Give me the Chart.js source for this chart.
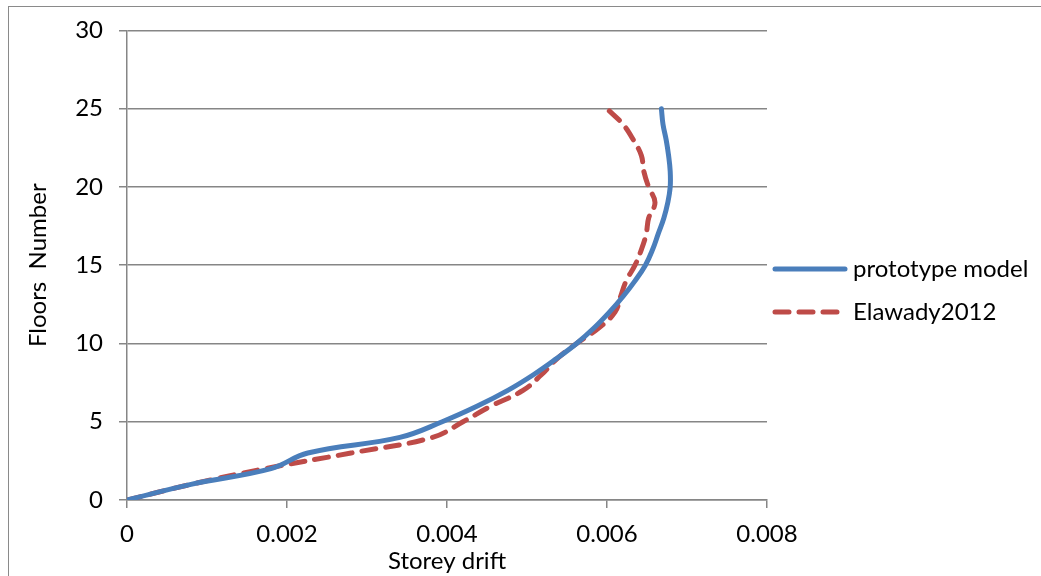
<!DOCTYPE html>
<html>
<head>
<meta charset="utf-8">
<script src="https://cdn.jsdelivr.net/npm/chart.js@4/dist/chart.umd.min.js"></script>
<style>
  html, body { margin: 0; padding: 0; background: #fff; overflow: hidden; }
  #wrap { position: relative; width: 1041px; height: 576px; }
  #frame { position: absolute; left: 8px; top: 6px; width: 1100px; height: 700px; border: 1px solid #8a8a8a; box-sizing: border-box; pointer-events: none; }
  canvas { position: absolute; left: 0; top: 0; }
</style>
</head>
<body>
<div id="wrap">
  <canvas id="chart" width="1041" height="576"></canvas>
  <div id="frame"></div>
</div>
<script>
// floors 0..25
const floors = [0,1,2,3,4,5,6,7,8,9,10,11,12,13,14,15,16,17,18,19,20,21,22,23,24,25];

const prototypeDrift = [0, 0.0008, 0.0018, 0.00226, 0.00341, 0.00394, 0.00438, 0.00476, 0.00508, 0.00536,
  0.00562, 0.00584, 0.00603, 0.0062, 0.00635, 0.00648, 0.00657, 0.00664, 0.00671, 0.00676,
  0.00679, 0.00679, 0.00677, 0.00674, 0.0067, 0.00668];

const elawadyDrift = [0, 0.0008, 0.00172, 0.0028, 0.00382, 0.0042, 0.00455, 0.00495, 0.00518, 0.00537,
  0.00562, 0.0059, 0.0061, 0.00617, 0.00624, 0.00635, 0.00643, 0.00649, 0.00652, 0.0066,
  0.00652, 0.00646, 0.00643, 0.00633, 0.0062, 0.006];

const xTicks = [0, 0.002, 0.004, 0.006, 0.008];
const yTicks = [0, 5, 10, 15, 20, 25, 30];

const FONT = 'Lato, "Open Sans", sans-serif';
const FONT_SIZE = 24;
const AXIS_GREY = '#868686';

function toPoints(xs) {
  return xs.map((x, i) => ({ x: x, y: floors[i] }));
}

// simple legend on the right, drawn the way the old Excel chart had it
const sideLegend = {
  id: 'sideLegend',
  afterDraw(chart) {
    const c = chart.ctx;
    const left = chart.chartArea.right + 8;
    const rows = [269, 312];
    c.save();
    chart.data.datasets.forEach((ds, i) => {
      const y = rows[i];
      c.beginPath();
      c.lineWidth = ds.borderWidth;
      c.strokeStyle = ds.borderColor;
      c.lineCap = 'round';
      c.setLineDash(ds.borderDash || []);
      c.moveTo(left, y);
      c.lineTo(left + 70, y);
      c.stroke();
      c.setLineDash([]);
      c.fillStyle = '#000';
      c.font = FONT_SIZE + 'px ' + FONT;
      c.textBaseline = 'middle';
      c.fillText(ds.label, left + 78, y);
    });
    c.restore();
  }
};

const ctx = document.getElementById('chart');

new Chart(ctx, {
  type: 'scatter',
  data: {
    datasets: [
      {
        label: 'prototype model',
        data: toPoints(prototypeDrift),
        showLine: true,
        borderColor: '#4a7ebb',
        backgroundColor: '#4a7ebb',
        borderWidth: 5,
        borderCapStyle: 'round',
        pointRadius: 0,
        tension: 0.4
      },
      {
        label: 'Elawady2012',
        data: toPoints(elawadyDrift),
        showLine: true,
        borderColor: '#be4b48',
        backgroundColor: '#be4b48',
        borderWidth: 5,
        borderDash: [14, 10],
        borderCapStyle: 'round',
        pointRadius: 0,
        tension: 0.4
      }
    ]
  },
  options: {
    responsive: false,
    animation: false,
    layout: { padding: { left: 24, top: 30, right: 274, bottom: 0 } },
    plugins: {
      tooltip: { enabled: false },
      legend: { display: false }
    },
    scales: {
      x: {
        type: 'linear',
        min: 0,
        max: 0.008,
        afterBuildTicks(axis) { axis.ticks = xTicks.map(v => ({ value: v })); },
        afterFit(axis) { axis.height = 76; },
        border: { color: AXIS_GREY, width: 1.5 },
        grid: { drawOnChartArea: false, drawTicks: true, tickLength: 8, color: AXIS_GREY, lineWidth: 1.5 },
        ticks: {
          color: '#000',
          padding: 12,
          font: { family: FONT, size: FONT_SIZE },
          callback: v => String(v)
        },
        title: {
          display: true,
          text: 'Storey drift',
          color: '#000',
          padding: { top: -8, bottom: 0 },
          font: { family: FONT, size: FONT_SIZE }
        }
      },
      y: {
        type: 'linear',
        min: 0,
        max: 30,
        afterBuildTicks(axis) { axis.ticks = yTicks.map(v => ({ value: v })); },
        afterFit(axis) { axis.width = 103; },
        border: { color: AXIS_GREY, width: 1.5 },
        grid: { color: AXIS_GREY, lineWidth: 1.5, tickLength: 8 },
        ticks: {
          color: '#000',
          padding: 16,
          font: { family: FONT, size: FONT_SIZE }
        },
        title: {
          display: true,
          text: 'Floors  Number',
          color: '#000',
          padding: 0,
          font: { family: FONT, size: FONT_SIZE }
        }
      }
    }
  },
  plugins: [sideLegend]
});
</script>
</body>
</html>
